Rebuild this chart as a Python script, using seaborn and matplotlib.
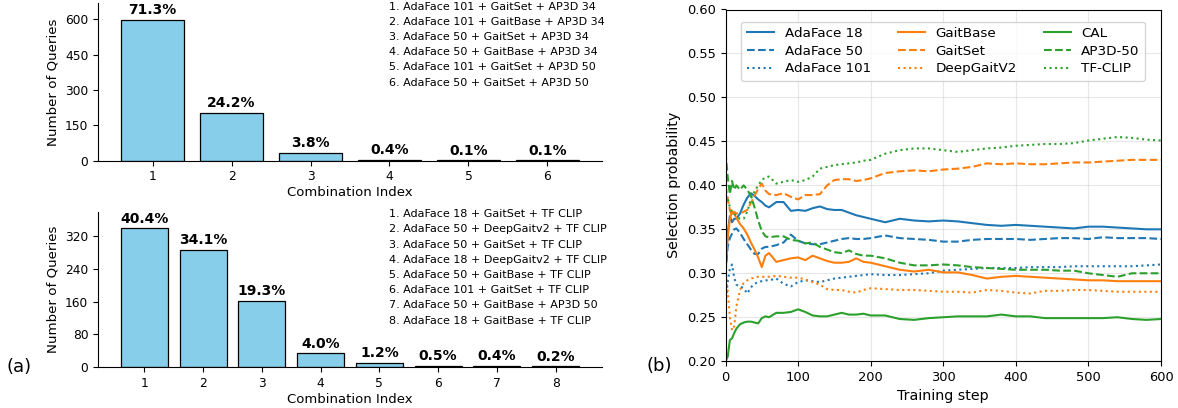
import numpy as np
import pandas as pd
import matplotlib
matplotlib.use("Agg")
import matplotlib.pyplot as plt
import seaborn as sns
from matplotlib.ticker import MultipleLocator, FormatStrFormatter

# ---------------- data: panel (a) ----------------
top_index = ["1", "2", "3", "4", "5", "6"]
top_counts = [598, 203, 32, 3, 1, 1]
top_pct = [71.3, 24.2, 3.8, 0.4, 0.1, 0.1]
top_combos = [
    "1. AdaFace 101 + GaitSet + AP3D 34",
    "2. AdaFace 101 + GaitBase + AP3D 34",
    "3. AdaFace 50 + GaitSet + AP3D 34",
    "4. AdaFace 50 + GaitBase + AP3D 34",
    "5. AdaFace 101 + GaitSet + AP3D 50",
    "6. AdaFace 50 + GaitSet + AP3D 50",
]
top_yticks = [0, 150, 300, 450, 600]

bottom_index = ["1", "2", "3", "4", "5", "6", "7", "8"]
bottom_counts = [338, 286, 162, 34, 10, 4, 3, 2]
bottom_pct = [40.4, 34.1, 19.3, 4.0, 1.2, 0.5, 0.4, 0.2]
bottom_combos = [
    "1. AdaFace 18 + GaitSet + TF CLIP",
    "2. AdaFace 50 + DeepGaitv2 + TF CLIP",
    "3. AdaFace 50 + GaitSet + TF CLIP",
    "4. AdaFace 18 + DeepGaitv2 + TF CLIP",
    "5. AdaFace 50 + GaitBase + TF CLIP",
    "6. AdaFace 101 + GaitSet + TF CLIP",
    "7. AdaFace 50 + GaitBase + AP3D 50",
    "8. AdaFace 18 + GaitBase + TF CLIP",
]
bottom_yticks = [0, 80, 160, 240, 320]

# ---------------- data: panel (b) ----------------
steps = [0, 3, 6, 9, 12, 15, 20, 25, 30, 35, 40, 45, 50, 55,
         60, 70, 80, 90, 100, 110, 120, 130, 140, 150, 160, 170, 180, 190, 200,
         220, 240, 260, 280, 300, 320, 340, 360, 380, 400, 420, 440, 460, 480,
         500, 520, 540, 560, 580, 600]

adaface18 = [0.300, 0.345, 0.365, 0.358, 0.362, 0.362, 0.368, 0.378, 0.386, 0.391, 0.388, 0.384, 0.381, 0.377,
             0.375, 0.381, 0.381, 0.371, 0.372, 0.371, 0.374, 0.376, 0.373, 0.372, 0.372, 0.369, 0.366, 0.364, 0.362,
             0.358, 0.362, 0.360, 0.359, 0.360, 0.359, 0.357, 0.355, 0.354, 0.355, 0.354, 0.353, 0.352, 0.351,
             0.353, 0.353, 0.352, 0.351, 0.350, 0.350]
adaface50 = [0.300, 0.330, 0.340, 0.345, 0.350, 0.351, 0.346, 0.339, 0.333, 0.327, 0.322, 0.322, 0.328, 0.330,
             0.330, 0.332, 0.335, 0.344, 0.337, 0.334, 0.333, 0.333, 0.335, 0.337, 0.339, 0.340, 0.339, 0.339, 0.340,
             0.343, 0.340, 0.339, 0.338, 0.336, 0.336, 0.338, 0.339, 0.339, 0.339, 0.338, 0.339, 0.340, 0.340,
             0.339, 0.341, 0.340, 0.340, 0.340, 0.339]
adaface101 = [0.265, 0.290, 0.305, 0.310, 0.295, 0.287, 0.285, 0.283, 0.277, 0.284, 0.288, 0.290, 0.291, 0.292,
              0.292, 0.294, 0.288, 0.285, 0.290, 0.292, 0.291, 0.290, 0.292, 0.294, 0.295, 0.296, 0.297, 0.298, 0.299,
              0.298, 0.298, 0.299, 0.300, 0.303, 0.304, 0.305, 0.306, 0.306, 0.306, 0.307, 0.307, 0.307, 0.308,
              0.308, 0.308, 0.308, 0.308, 0.309, 0.310]
gaitbase = [0.310, 0.340, 0.362, 0.370, 0.368, 0.363, 0.356, 0.351, 0.344, 0.335, 0.327, 0.318, 0.307, 0.320,
            0.323, 0.313, 0.315, 0.317, 0.318, 0.315, 0.320, 0.317, 0.314, 0.312, 0.312, 0.313, 0.317, 0.313, 0.312,
            0.308, 0.304, 0.302, 0.304, 0.301, 0.301, 0.298, 0.294, 0.296, 0.297, 0.296, 0.295, 0.294, 0.293,
            0.292, 0.292, 0.291, 0.291, 0.291, 0.291]
gaitset = [0.400, 0.385, 0.372, 0.365, 0.370, 0.368, 0.368, 0.370, 0.372, 0.380, 0.388, 0.396, 0.402, 0.394,
           0.390, 0.389, 0.391, 0.387, 0.384, 0.389, 0.389, 0.390, 0.400, 0.406, 0.407, 0.407, 0.405, 0.406, 0.408,
           0.414, 0.416, 0.417, 0.416, 0.418, 0.419, 0.421, 0.425, 0.424, 0.425, 0.424, 0.424, 0.425, 0.426,
           0.426, 0.427, 0.428, 0.429, 0.429, 0.429]
deepgaitv2 = [0.300, 0.280, 0.250, 0.235, 0.240, 0.262, 0.281, 0.289, 0.292, 0.294, 0.295, 0.296, 0.296, 0.296,
              0.296, 0.297, 0.296, 0.295, 0.295, 0.293, 0.290, 0.287, 0.282, 0.281, 0.281, 0.279, 0.278, 0.281, 0.283,
              0.282, 0.281, 0.281, 0.280, 0.279, 0.279, 0.278, 0.281, 0.280, 0.278, 0.277, 0.280, 0.280, 0.281,
              0.281, 0.280, 0.279, 0.279, 0.279, 0.279]
cal = [0.200, 0.205, 0.224, 0.226, 0.232, 0.237, 0.242, 0.244, 0.245, 0.245, 0.244, 0.243, 0.249, 0.251,
       0.250, 0.255, 0.255, 0.256, 0.259, 0.256, 0.252, 0.251, 0.251, 0.253, 0.255, 0.253, 0.253, 0.254, 0.252,
       0.252, 0.248, 0.247, 0.249, 0.250, 0.251, 0.251, 0.251, 0.253, 0.251, 0.251, 0.249, 0.249, 0.249,
       0.249, 0.249, 0.250, 0.248, 0.247, 0.248]
ap3d50 = [0.438, 0.410, 0.390, 0.405, 0.395, 0.400, 0.395, 0.400, 0.395, 0.388, 0.375, 0.360, 0.348, 0.342,
          0.341, 0.342, 0.342, 0.338, 0.337, 0.334, 0.335, 0.330, 0.327, 0.324, 0.323, 0.326, 0.322, 0.320, 0.320,
          0.317, 0.312, 0.309, 0.309, 0.310, 0.309, 0.307, 0.306, 0.305, 0.304, 0.304, 0.304, 0.303, 0.303,
          0.300, 0.298, 0.296, 0.300, 0.300, 0.300]
tfclip = [0.380, 0.385, 0.375, 0.370, 0.368, 0.365, 0.362, 0.362, 0.370, 0.385, 0.393, 0.400, 0.406, 0.409,
          0.410, 0.402, 0.404, 0.406, 0.404, 0.406, 0.410, 0.419, 0.421, 0.423, 0.424, 0.425, 0.426, 0.428, 0.429,
          0.436, 0.440, 0.442, 0.442, 0.440, 0.438, 0.440, 0.442, 0.443, 0.445, 0.446, 0.447, 0.447, 0.448,
          0.451, 0.453, 0.455, 0.454, 0.452, 0.451]

series_names = ["AdaFace 18", "AdaFace 50", "AdaFace 101",
                "GaitBase", "GaitSet", "DeepGaitV2",
                "CAL", "AP3D-50", "TF-CLIP"]
series_values = [adaface18, adaface50, adaface101,
                 gaitbase, gaitset, deepgaitv2,
                 cal, ap3d50, tfclip]
series_colors = ["#1f77b4"] * 3 + ["#ff7f0e"] * 3 + ["#2ca02c"] * 3
series_styles = ["-", "--", ":"] * 3

# ---------------- figure ----------------
W, H = 1178, 408
fig = plt.figure(figsize=(W / 100, H / 100), dpi=100)


def px_axes(left, top, right, bottom):
    return fig.add_axes([left / W, 1 - bottom / H, (right - left) / W, (bottom - top) / H])


def bar_panel(ax, idx, counts, pct, yticks):
    sns.barplot(x=idx, y=counts, ax=ax, color="skyblue", edgecolor="black",
                linewidth=0.9, width=0.8, saturation=1)
    ax.bar_label(ax.containers[0], labels=[f"{p:.1f}%" for p in pct],
                 padding=2, fontsize=10, fontweight="bold")
    n = len(idx)
    m = 0.4 + 0.05 * (n - 0.2)
    ax.set_xlim(-m, n - 1 + m)
    ax.set_ylim(0, max(counts) * 1.12)
    ax.set_yticks(yticks)
    ax.spines[["top", "right"]].set_visible(False)
    ax.set_xlabel("Combination Index", fontsize=9.5, labelpad=2)
    ax.set_ylabel("Number of Queries", fontsize=9.6)
    ax.tick_params(labelsize=8.8)


ax_top = px_axes(98, 3, 602, 160.7)
bar_panel(ax_top, top_index, top_counts, top_pct, top_yticks)
fig.text(389 / W, 1 - 1.5 / H, "\n".join(top_combos), fontsize=8, ha="left", va="top",
         linespacing=1.65)

ax_bot = px_axes(98, 211.7, 602, 367.3)
bar_panel(ax_bot, bottom_index, bottom_counts, bottom_pct, bottom_yticks)
fig.text(389 / W, 1 - 209.2 / H, "\n".join(bottom_combos), fontsize=8, ha="left", va="top",
         linespacing=1.65)

fig.text(19 / W, 1 - 367 / H, "(a)", fontsize=13, ha="center", va="center")

# ---------------- panel (b) ----------------
ax_r = px_axes(725.5, 9.5, 1161, 361.2)
for name, vals, c, ls in zip(series_names, series_values, series_colors, series_styles):
    sns.lineplot(x=steps, y=vals, ax=ax_r, color=c, linestyle=ls, linewidth=1.5, label=name)
ax_r.set_xlim(0, 600)
ax_r.set_ylim(0.20, 0.60)
ax_r.yaxis.set_major_locator(MultipleLocator(0.05))
ax_r.yaxis.set_major_formatter(FormatStrFormatter("%.2f"))
ax_r.xaxis.set_major_locator(MultipleLocator(100))
ax_r.grid(True, color="#b0b0b0", alpha=0.3, linewidth=0.8)
ax_r.set_axisbelow(True)
ax_r.tick_params(labelsize=9.4)
ax_r.set_xlabel("Training step", fontsize=10.3)
ax_r.set_ylabel("Selection probability", fontsize=10.3)
ax_r.legend(ncol=3, loc="upper center", fontsize=9.7, labelspacing=0.35,
            bbox_to_anchor=(0.5, 0.985))

fig.text(659 / W, 1 - 366 / H, "(b)", fontsize=13, ha="center", va="center")

fig.savefig("out.png", dpi=100)
